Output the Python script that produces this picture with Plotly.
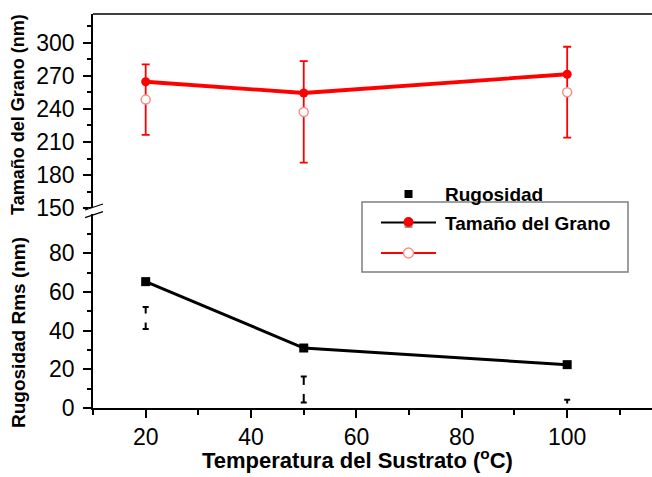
import plotly.graph_objects as go

# ---- data ----
temps = [20, 50, 100]
grano = [264.6, 254.4, 271.4]          # filled red circles
grano_open = [248.4, 237.2, 255.1]     # open circles (with error bars)
grano_err = [32, 46, 41.2]
rug = [65.3, 31.0, 22.4]               # black squares
rug_eb_center = [46.5, 9.6, 0.0]
rug_err = [5.7, 6.7, 4.3]

x_ticks = [20, 40, 60, 80, 100]
y_bot_ticks = [0, 20, 40, 60, 80]
y_top_ticks = [150, 180, 210, 240, 270, 300]

W, H = 652, 477
L, R, T, B = 93, 0, 14, 69
BREAK = 211
FONT = "Arial, Liberation Sans, sans-serif"

def px(x):
    return (x - L) / (W - L - R)

def py(y):
    return (H - B - y) / (H - B - T)

split = py(BREAK)

fig = go.Figure()

# bottom panel
fig.add_trace(go.Scatter(
    x=temps, y=rug_eb_center, mode="markers",
    marker=dict(symbol="square", size=9, color="white", line=dict(width=0)),
    error_y=dict(type="data", array=rug_err, color="black", thickness=2, width=3),
    xaxis="x", yaxis="y", showlegend=False, hoverinfo="skip"))
fig.add_trace(go.Scatter(
    x=temps, y=rug, mode="lines+markers",
    line=dict(color="black", width=3),
    marker=dict(symbol="square", size=9, color="black"),
    xaxis="x", yaxis="y", showlegend=False))

# top panel
fig.add_trace(go.Scatter(
    x=temps, y=grano_open, mode="markers",
    marker=dict(symbol="circle", size=9, color="white", line=dict(color="#ff8a8a", width=1.5)),
    error_y=dict(type="data", array=grano_err, color="#ff0000", thickness=1.8, width=4),
    xaxis="x2", yaxis="y2", showlegend=False))
fig.add_trace(go.Scatter(
    x=temps, y=grano, mode="lines+markers",
    line=dict(color="#ff0000", width=3.8),
    marker=dict(symbol="circle", size=9, color="#ff0000"),
    xaxis="x2", yaxis="y2", showlegend=False))

axis_common = dict(showline=True, linecolor="black", linewidth=1.5, ticks="outside",
                   tickcolor="black", tickwidth=1.5, showgrid=False, zeroline=False,
                   tickfont=dict(family=FONT, size=23, color="black"))

fig.update_layout(
    width=W, height=H, margin=dict(l=L, r=R, t=T, b=B),
    paper_bgcolor="white", plot_bgcolor="white",
    xaxis=dict(domain=[0, 1], range=[10, 116.1], tickvals=x_ticks, ticklen=8,
               minor=dict(tickvals=[10, 30, 50, 70, 90, 110], ticklen=5, tickcolor="black", tickwidth=1.5, ticks="outside"),
               anchor="y", **axis_common),
    yaxis=dict(domain=[0, split], range=[0, 101.8], tickvals=y_bot_ticks, ticklen=8,
               minor=dict(tickvals=[10, 30, 50, 70, 90], ticklen=4, tickcolor="black", tickwidth=1.5, ticks="outside"),
               anchor="x", ticklabelstandoff=4, **axis_common),
    xaxis2=dict(domain=[0, 1], range=[10, 116.1], matches="x", anchor="y2", visible=False),
    yaxis2=dict(domain=[split, 1], range=[147.4, 326], tickvals=y_top_ticks, ticklen=8,
                minor=dict(tickvals=[165, 195, 225, 255, 285, 315], ticklen=4, tickcolor="black", tickwidth=1.5, ticks="outside"),
                anchor="x2", ticklabelstandoff=4, **axis_common),
)

shapes = []
# top frame line
shapes.append(dict(type="line", xref="paper", yref="paper", x0=0, x1=1, y0=1, y1=1,
                   line=dict(color="black", width=1.5)))
# axis break marks
shapes.append(dict(type="rect", xref="paper", yref="paper", x0=px(88), x1=px(98), y0=py(214), y1=py(208),
                   fillcolor="white", line=dict(width=0)))
for y0 in (210, 217.7):
    shapes.append(dict(type="line", xref="paper", yref="paper", x0=px(85), x1=px(103),
                       y0=py(y0), y1=py(y0 - 6), line=dict(color="black", width=1.3)))
# legend box
shapes.append(dict(type="rect", xref="paper", yref="paper", x0=px(362), x1=px(628), y0=py(272), y1=py(202),
                   line=dict(color="#7f7f7f", width=1.5), fillcolor="rgba(0,0,0,0)"))
# legend swatches
shapes.append(dict(type="line", xref="paper", yref="paper", x0=px(381), x1=px(436), y0=py(222.5), y1=py(222.5),
                   line=dict(color="black", width=2)))
shapes.append(dict(type="line", xref="paper", yref="paper", x0=px(381), x1=px(436), y0=py(253), y1=py(253),
                   line=dict(color="#ff0000", width=2)))

def marker_shape(kind, cx, cy, r, fill, line_color, lw=0):
    return dict(type=kind, xref="paper", yref="paper", xsizemode="pixel", ysizemode="pixel",
                xanchor=px(cx), yanchor=py(cy), x0=-r, x1=r, y0=-r, y1=r,
                fillcolor=fill, line=dict(color=line_color, width=lw))

shapes.append(marker_shape("rect", 408.5, 194, 4, "black", "black"))
shapes.append(marker_shape("rect", 408.5, 224, 4, "#9a9a9a", "#9a9a9a"))
shapes.append(marker_shape("circle", 408.5, 222, 5, "#ff0000", "#ff0000"))
shapes.append(marker_shape("circle", 408.5, 253, 5, "white", "#ff8a8a", 1.3))
fig.update_layout(shapes=shapes)

ann = []
ann.append(dict(text="<b>Rugosidad</b>", x=px(443), y=py(194), xref="paper", yref="paper",
                xanchor="left", yanchor="middle", showarrow=False,
                font=dict(family=FONT, size=19, color="black")))
ann.append(dict(text="<b>Tamaño del Grano</b>", x=px(443), y=py(223), xref="paper", yref="paper",
                xanchor="left", yanchor="middle", showarrow=False,
                font=dict(family=FONT, size=19, color="black")))
ann.append(dict(text="<b>Temperatura del Sustrato (<sup>o</sup>C)</b>", x=px(357), y=py(459),
                xref="paper", yref="paper", xanchor="center", yanchor="middle", showarrow=False,
                font=dict(family=FONT, size=22, color="black")))
ann.append(dict(text="<b>Tamaño del Grano (nm)</b>", x=px(18), y=py(115), textangle=-90,
                xref="paper", yref="paper", xanchor="center", yanchor="middle", showarrow=False,
                font=dict(family=FONT, size=18, color="black")))
ann.append(dict(text="<b>Rugosidad Rms (nm)</b>", x=px(18), y=py(333), textangle=-90,
                xref="paper", yref="paper", xanchor="center", yanchor="middle", showarrow=False,
                font=dict(family=FONT, size=19, color="black")))
fig.update_layout(annotations=ann)

fig.write_html("out.html", config={"displayModeBar": False},
               post_script="document.body.style.margin='0';document.body.style.overflow='hidden';")
